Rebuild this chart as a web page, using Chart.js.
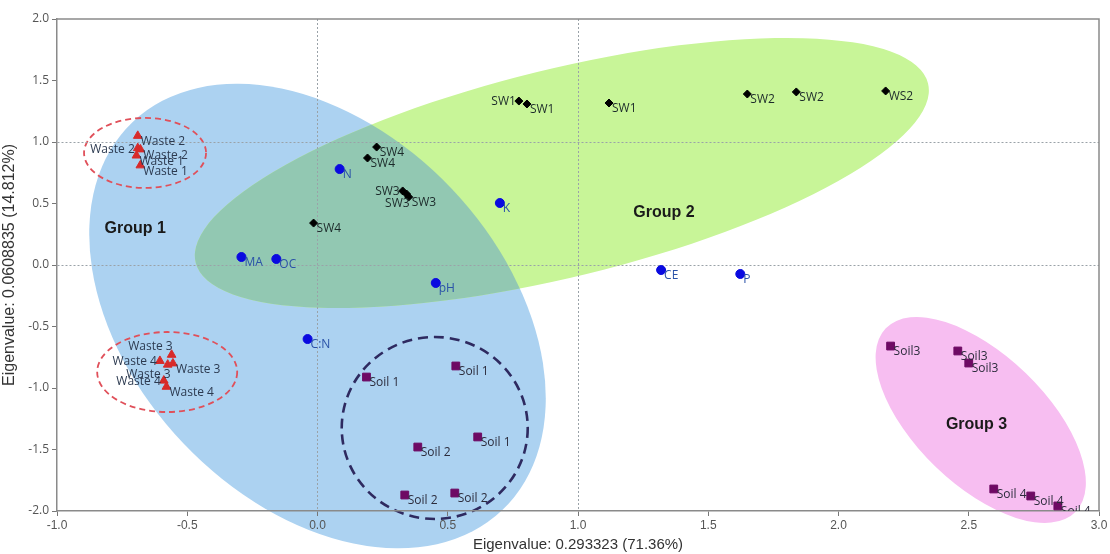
<!DOCTYPE html>
<html>
<head>
<meta charset="utf-8">
<script src="https://cdn.jsdelivr.net/npm/chart.js@4.4.1/dist/chart.umd.min.js"></script>
<style>
  html, body { margin: 0; padding: 0; background: #fff; }
  #wrap { width: 1110px; height: 554px; position: relative; }
</style>
</head>
<body>
<div id="wrap"><canvas id="pcaChart"></canvas></div>
<script>
// waste samples (red triangles)
const wasteLabels = ['Waste 2', 'Waste 2', 'Waste 2', 'Waste 1', 'Waste 1',
                     'Waste 3', 'Waste 3', 'Waste 4', 'Waste 3', 'Waste 4', 'Waste 4'];
const wasteX = [-0.69, -0.69, -0.68, -0.695, -0.68, -0.56, -0.555, -0.605, -0.575, -0.59, -0.58];
const wasteY = [1.05, 0.95, 0.94, 0.89, 0.81, -0.73, -0.80, -0.78, -0.81, -0.94, -0.99];

// sewage / water samples (black diamonds)
const swLabels = ['SW1', 'SW1', 'SW1', 'SW2', 'SW2', 'WS2', 'SW4', 'SW4', 'SW3', 'SW3', 'SW3', 'SW4'];
const swX = [0.773, 0.804, 1.119, 1.65, 1.838, 2.181, 0.227, 0.192, 0.327, 0.342, 0.35, -0.015];
const swY = [1.333, 1.309, 1.317, 1.39, 1.407, 1.415, 0.959, 0.87, 0.602, 0.577, 0.553, 0.341];

// soil properties (blue circles)
const varLabels = ['N', 'MA', 'OC', 'pH', 'C:N', 'K', 'CE', 'P'];
const varX = [0.085, -0.292, -0.158, 0.454, -0.038, 0.70, 1.319, 1.623];
const varY = [0.78, 0.065, 0.049, -0.146, -0.602, 0.504, -0.041, -0.073];

// soil samples (purple squares)
const soilLabels = ['Soil 1', 'Soil 1', 'Soil 1', 'Soil 2', 'Soil 2', 'Soil 2',
                    'Soil3', 'Soil3', 'Soil3', 'Soil 4', 'Soil 4', 'Soil 4'];
const soilX = [0.188, 0.531, 0.615, 0.385, 0.335, 0.527, 2.2, 2.458, 2.5, 2.596, 2.738, 2.842];
const soilY = [-0.911, -0.821, -1.398, -1.48, -1.87, -1.854, -0.659, -0.699, -0.797, -1.821, -1.878, -1.959];

const groupNames = ['Group 1', 'Group 2', 'Group 3'];
const groupX = [-0.70, 1.33, 2.53];
const groupY = [0.30, 0.43, -1.30];

const xMin = -1, xMax = 3, yMin = -2, yMax = 2, tickStep = 0.5;
const xTitle = 'Eigenvalue: 0.293323 (71.36%)';
const yTitle = 'Eigenvalue: 0.0608835 (14.812%)';

const toPoints = (xs, ys) => xs.map((x, i) => ({ x, y: ys[i] }));

// where each label sits relative to its marker (r = right/below, l = left, bl = below-left, al = above-left)
const labelSide = [
  ['r', 'l', 'r', 'r', 'r', 'al', 'r', 'l', 'bl', 'l', 'r'],
  ['l', 'r', 'r', 'r', 'r', 'r', 'r', 'r', 'l', 'bl', 'r', 'r'],
  [],
  []
];

// group shading and the dashed rings (centre in data units, radii in px)
const hulls = [
  { cx: 0.0, cy: -0.415, rx: 268, ry: 185, rot: 46.4, fill: 'rgb(172,210,241)' },
  { cx: 0.938, cy: 0.748, rx: 377, ry: 104, rot: -13.75, fill: 'rgb(200,245,152)' },
  { cx: 2.546, cy: -1.26, rx: 132, ry: 65, rot: 44, fill: 'rgb(247,190,241)' }
];
const overlapFill = 'rgb(146,200,178)';
const rings = [
  { cx: -0.662, cy: 0.911, rx: 61, ry: 35, color: '#e0505a', width: 1.8, dash: [6, 4] },
  { cx: -0.577, cy: -0.870, rx: 70, ry: 40, color: '#e0505a', width: 1.8, dash: [6, 4] },
  { cx: 0.45, cy: -1.325, rx: 93, ry: 91, color: '#2e2a60', width: 2.6, dash: [10, 6] }
];

function ellipsePath(ctx, chart, e) {
  const px = chart.scales.x.getPixelForValue(e.cx);
  const py = chart.scales.y.getPixelForValue(e.cy);
  ctx.beginPath();
  ctx.ellipse(px, py, e.rx, e.ry, e.rot ? e.rot * Math.PI / 180 : 0, 0, Math.PI * 2);
}

const shapesPlugin = {
  id: 'shapes',
  beforeDraw(chart) {
    const ctx = chart.ctx;
    ctx.save();
    hulls.forEach(h => {
      ellipsePath(ctx, chart, h);
      ctx.fillStyle = h.fill;
      ctx.fill();
    });
    // where group 1 and group 2 overlap
    ellipsePath(ctx, chart, hulls[1]);
    ctx.clip();
    ellipsePath(ctx, chart, hulls[0]);
    ctx.fillStyle = overlapFill;
    ctx.fill();
    ctx.restore();

    ctx.save();
    rings.forEach(r => {
      ellipsePath(ctx, chart, r);
      ctx.setLineDash(r.dash);
      ctx.lineWidth = r.width;
      ctx.strokeStyle = r.color;
      ctx.stroke();
    });
    ctx.restore();
  },
  afterDatasetsDraw(chart) {
    const ctx = chart.ctx;
    const area = chart.chartArea;
    ctx.save();
    ctx.beginPath();
    ctx.rect(area.left, area.top, area.right - area.left, area.bottom - area.top);
    ctx.clip();
    ctx.font = '12px "Open Sans"';
    ctx.textBaseline = 'middle';
    chart.data.datasets.forEach((ds, di) => {
      const meta = chart.getDatasetMeta(di);
      const sides = labelSide[di] || [];
      meta.data.forEach((pt, i) => {
        const side = sides[i] || 'r';
        let tx = pt.x + 3, ty = pt.y + 6, align = 'left';
        if (side === 'l') { tx = pt.x - 3; ty = pt.y + 1; align = 'right'; }
        if (side === 'bl') { tx = pt.x + 3; ty = pt.y + 10; align = 'right'; }
        if (side === 'al') { tx = pt.x + 1; ty = pt.y - 8; align = 'right'; }
        ctx.textAlign = align;
        ctx.fillStyle = ds.labelColor;
        ctx.fillText(ds.pointLabels[i], tx, ty);
      });
    });
    ctx.restore();

    ctx.save();
    ctx.font = 'bold 16px "Liberation Sans"';
    ctx.fillStyle = '#1a1a1a';
    ctx.textAlign = 'center';
    ctx.textBaseline = 'middle';
    groupNames.forEach((g, i) => {
      ctx.fillText(g, chart.scales.x.getPixelForValue(groupX[i]), chart.scales.y.getPixelForValue(groupY[i]));
    });
    ctx.restore();
  },
  afterDraw(chart) {
    const { ctx, chartArea: a } = chart;
    ctx.save();
    ctx.strokeStyle = '#8a8a8a';
    ctx.lineWidth = 1.5;
    ctx.beginPath();
    ctx.moveTo(a.left, a.top);
    ctx.lineTo(a.right, a.top);
    ctx.lineTo(a.right, a.bottom);
    ctx.stroke();
    ctx.restore();
  }
};

const gridColor = ctx => {
  const v = ctx.tick ? ctx.tick.value : null;
  if (v === null || !Number.isInteger(v)) return 'rgba(0,0,0,0)';
  if (v === xMin || v === xMax || v === yMin || v === yMax) return 'rgba(0,0,0,0)';
  return '#9aa2a8';
};

new Chart(document.getElementById('pcaChart'), {
  type: 'scatter',
  data: {
    datasets: [
      {
        data: toPoints(wasteX, wasteY), pointLabels: wasteLabels, labelColor: '#2c3a50',
        pointStyle: 'triangle', pointRadius: 5, backgroundColor: '#d82a2a', borderColor: '#d82a2a', borderWidth: 1
      },
      {
        data: toPoints(swX, swY), pointLabels: swLabels, labelColor: '#1c2a2a',
        pointStyle: 'rectRot', pointRadius: 4, backgroundColor: '#000', borderColor: '#000', borderWidth: 1
      },
      {
        data: toPoints(varX, varY), pointLabels: varLabels, labelColor: '#2a52a8',
        pointStyle: 'circle', pointRadius: 4.5, backgroundColor: '#0a0ae0', borderColor: '#0a0ae0', borderWidth: 1
      },
      {
        data: toPoints(soilX, soilY), pointLabels: soilLabels, labelColor: '#2c2c3c',
        pointStyle: 'rect', pointRadius: 5.5, backgroundColor: '#6e0a64', borderColor: '#6e0a64', borderWidth: 1
      }
    ]
  },
  options: {
    responsive: true,
    maintainAspectRatio: false,
    animation: false,
    layout: { padding: { top: 19, right: 11, left: 0, bottom: 0 } },
    plugins: {
      legend: { display: false },
      tooltip: { enabled: false }
    },
    scales: {
      x: {
        type: 'linear',
        min: xMin,
        max: xMax,
        afterFit: scale => { scale.height = 43; },
        ticks: {
          stepSize: tickStep,
          padding: 2,
          color: '#555',
          font: { family: '"Liberation Sans", Arial, sans-serif', size: 12 },
          callback: v => v.toFixed(1)
        },
        grid: { color: gridColor, tickColor: '#777', tickLength: 5, lineWidth: 1 },
        border: { color: '#8a8a8a', width: 1.5, dash: [2, 2] },
        title: {
          display: true,
          text: xTitle,
          color: '#333',
          padding: { top: 0, bottom: 0 },
          font: { family: '"Liberation Sans", Arial, sans-serif', size: 15 }
        }
      },
      y: {
        type: 'linear',
        min: yMin,
        max: yMax,
        afterFit: scale => { scale.width = 57; },
        ticks: {
          stepSize: tickStep,
          padding: 3,
          color: '#555',
          font: { family: '"Open Sans", sans-serif', size: 12 },
          callback: v => v.toFixed(1)
        },
        grid: { color: gridColor, tickColor: '#777', tickLength: 5, lineWidth: 1 },
        border: { color: '#8a8a8a', width: 1.5, dash: [2, 2] },
        title: {
          display: true,
          text: yTitle,
          color: '#333',
          padding: { top: 0, bottom: 2 },
          font: { family: '"Liberation Sans", Arial, sans-serif', size: 16 }
        }
      }
    }
  },
  plugins: [shapesPlugin]
});
</script>
</body>
</html>
